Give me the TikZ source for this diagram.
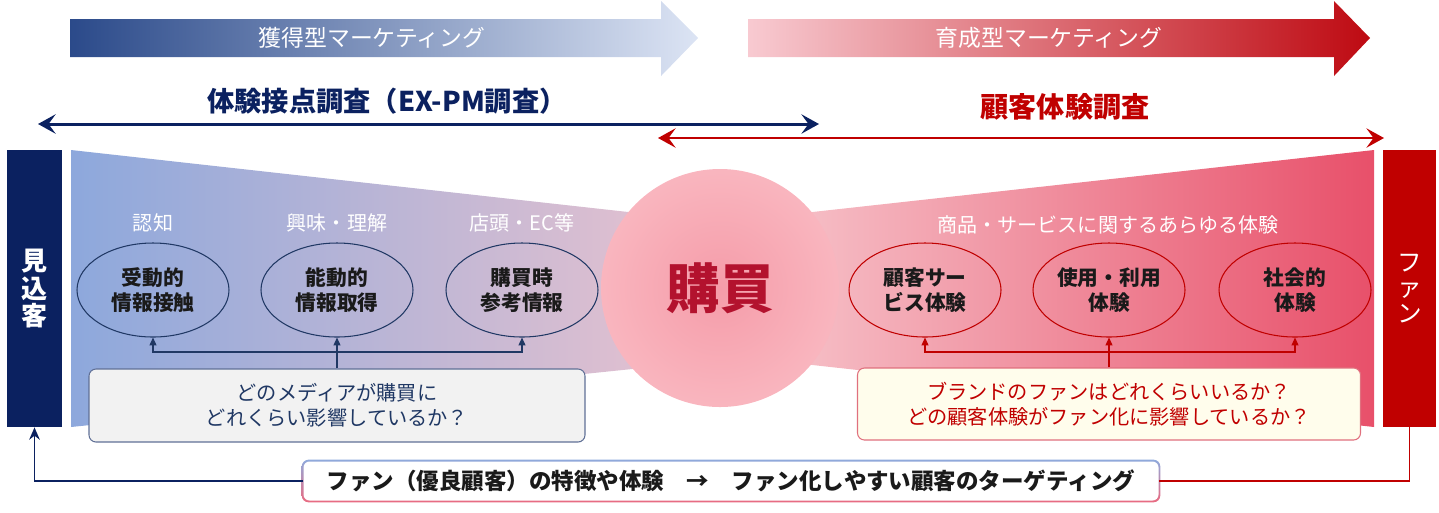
\documentclass[tikz,border=0pt]{standalone}
\usepackage{fontspec}
\setmainfont{Noto Sans CJK JP}
\usepackage{tikz}
\usetikzlibrary{arrows.meta,positioning,shapes.geometric,calc,backgrounds}
\usepackage{xcolor}
\definecolor{cxnavy}{HTML}{0B2160}
\definecolor{cxqnavy}{HTML}{203864}
\definecolor{cxred}{HTML}{C00000}
\definecolor{cxbuy}{HTML}{B3122E}
\definecolor{cxglowcore}{HTML}{F59CA9}
\definecolor{cxglowrim}{HTML}{FDCAD0}
\definecolor{cxink}{HTML}{1A1A1A}
\pgfdeclareradialshading{cxglow}{\pgfpoint{0bp}{0bp}}{color(0bp)=(cxglowcore); color(45bp)=(cxglowrim); color(50bp)=(cxglowrim)}
\newlength\pxl
\setlength\pxl{0.02cm}
\tikzset{
    cxbar/.style={minimum width=55\pxl, minimum height=277\pxl, inner sep=0pt, align=center, text=white},
    cxoval/.style={ellipse, draw, line width=0.6pt, minimum width=152\pxl, minimum height=94\pxl, inner sep=0pt, align=center, text=cxink, font=\fontsize{11.8}{14.2}\selectfont\bfseries},
    cxlabel/.style={text=white, font=\fontsize{11.4}{13}\selectfont},
    cxquery/.style={draw, rounded corners=7\pxl, line width=0.6pt, align=center, inner sep=0pt, font=\fontsize{11.5}{14.4}\selectfont},
    cxtip/.style={-{Triangle[length=4.5pt, width=4pt]}, line width=0.6pt},
    cxspan/.style={{Stealth[length=10pt, width=11pt, inset=4pt]}-{Stealth[length=10pt, width=11pt, inset=4pt]}},
    cxband/.style={font=\fontsize{13}{15}\selectfont, text=white}
}

\begin{document}
\begin{tikzpicture}[x=0.02cm, y=-0.02cm]
    \useasboundingbox (0,0) rectangle (1439,512);
    % marketing bands
    \shade[left color={rgb,255:red,43;green,74;blue,138}, middle color={rgb,255:red,90;green,126;blue,196}, right color={rgb,255:red,220;green,228;blue,244}]
        (70,19) -- (661,19) -- (661,1) -- (698,38) -- (661,76) -- (661,57) -- (70,57) -- cycle;
    \shade[left color={rgb,255:red,248;green,202;blue,209}, middle color={rgb,255:red,227;green,161;blue,168}, right color={rgb,255:red,190;green,10;blue,18}]
        (748,19) -- (1334,19) -- (1334,1) -- (1370,38) -- (1334,76) -- (1334,57) -- (748,57) -- cycle;
    \node[cxband] (acquire) at (372,38) {獲得型マーケティング};
    \node[cxband] (nurture) at (1049,38) {育成型マーケティング};

    % survey spans
    \node[font=\fontsize{15.5}{17}\selectfont\bfseries, text=cxnavy] (expm) at (387,101) {体験接点調査（EX-PM調査）};
    \node[font=\fontsize{16}{18}\selectfont\bfseries, text=cxred] (cxsurvey) at (1065,107) {顧客体験調査};
    \coordinate (expmL) at (38,124);
    \coordinate (expmR) at (819,124);
    \coordinate (cxsurveyL) at (658,138);
    \coordinate (cxsurveyR) at (1384,138);
    \draw[cxspan, cxnavy, line width=1.7pt] (expmL) -- (expmR);
    \draw[cxspan, cxred, line width=1.4pt] (cxsurveyL) -- (cxsurveyR);

    % funnels
    \shade[left color={rgb,255:red,141;green,168;blue,220}, right color={rgb,255:red,232;green,194;blue,207}]
        (71,150) -- (700,220) -- (700,362) -- (71,427) -- cycle;
    \shade[left color={rgb,255:red,247;green,201;blue,207}, right color={rgb,255:red,232;green,80;blue,106}]
        (740,220) -- (1374,150) -- (1374,427) -- (740,357) -- cycle;

    \node[cxbar, fill=cxnavy, font=\fontsize{14.8}{15.4}\selectfont\bfseries] (prospect) at (34.5,288.5) {見\\込\\客};
    \node[cxbar, fill=cxred, minimum width=53\pxl, font=\fontsize{14}{14.5}\selectfont] (fan) at (1409.5,288.5) {フ\\ァ\\ン};

    \node[circle, shade, shading=cxglow, minimum size=238\pxl, inner sep=0pt, text=cxbuy, font=\fontsize{30.5}{32}\selectfont\bfseries] (buy) at (720,288) {購買};

    % acquisition touchpoints
    \node[cxoval, draw=cxqnavy] (passive) at (153,290) {受動的\\情報接触};
    \node[cxoval, draw=cxqnavy] (active) at (337,290) {能動的\\情報取得};
    \node[cxoval, draw=cxqnavy] (instore) at (522,290) {購買時\\参考情報};
    \node[cxlabel] (aware) at (153,223) {認知};
    \node[cxlabel] (interest) at (337,223) {興味・理解};
    \node[cxlabel] (shopfront) at (522,223) {店頭・EC等};

    % nurture experiences
    \node[cxoval, draw=cxred] (service) at (925,290) {顧客サー\\ビス体験};
    \node[cxoval, draw=cxred] (usage) at (1109,290) {使用・利用\\体験};
    \node[cxoval, draw=cxred] (social) at (1295,290) {社会的\\体験};
    \node[cxlabel] (allexp) at (1108,225) {商品・サービスに関するあらゆる体験};

    % questions
    \node[cxquery, draw={rgb,255:red,96;green,112;blue,150}, fill={rgb,255:red,242;green,242;blue,242}, text=cxqnavy, minimum width=496\pxl, minimum height=73\pxl] (mediaq) at (337,405.5) {どのメディアが購買に\\どれくらい影響しているか？};
    \node[cxquery, draw={rgb,255:red,224;green,112;blue,126}, fill={rgb,255:red,255;green,253;blue,236}, text=cxred, minimum width=503\pxl, minimum height=72\pxl] (fanq) at (1109,404) {ブランドのファンはどれくらいいるか？\\どの顧客体験がファン化に影響しているか？};

    \coordinate (mediajoin) at (337,352);
    \coordinate (fanjoin) at (1109,352);
    \draw[cxtip, cxqnavy] (mediaq.north) -- (active.south);
    \draw[cxtip, cxqnavy] (mediajoin) -| (passive.south);
    \draw[cxtip, cxqnavy] (mediajoin) -| (instore.south);
    \draw[cxtip, cxred] (fanq.north) -- (usage.south);
    \draw[cxtip, cxred] (fanjoin) -| (service.south);
    \draw[cxtip, cxred] (fanjoin) -| (social.south);

    % targeting loop
    \node[fill=white, rounded corners=6\pxl, minimum width=855\pxl, minimum height=39\pxl, inner sep=0pt, text=cxink, font=\fontsize{12.8}{15}\selectfont\bfseries] (target) at (731,481) {ファン（優良顧客）の特徴や体験　→　ファン化しやすい顧客のターゲティング};
    \begin{scope}[on background layer]
        \shade[top color={rgb,255:red,143;green,170;blue,220}, bottom color={rgb,255:red,234;green,106;blue,128}, rounded corners=7\pxl]
            ($(target.north west)+(-1.5,-1.5)$) rectangle ($(target.south east)+(1.5,1.5)$);
    \end{scope}
    \draw[cxnavy, line width=1.1pt, -{Stealth[length=7pt, width=6pt]}] (target.west) -| (prospect.south);
    \draw[cxred, line width=1.1pt] (target.east) -| (fan.south);
\end{tikzpicture}
\end{document}
